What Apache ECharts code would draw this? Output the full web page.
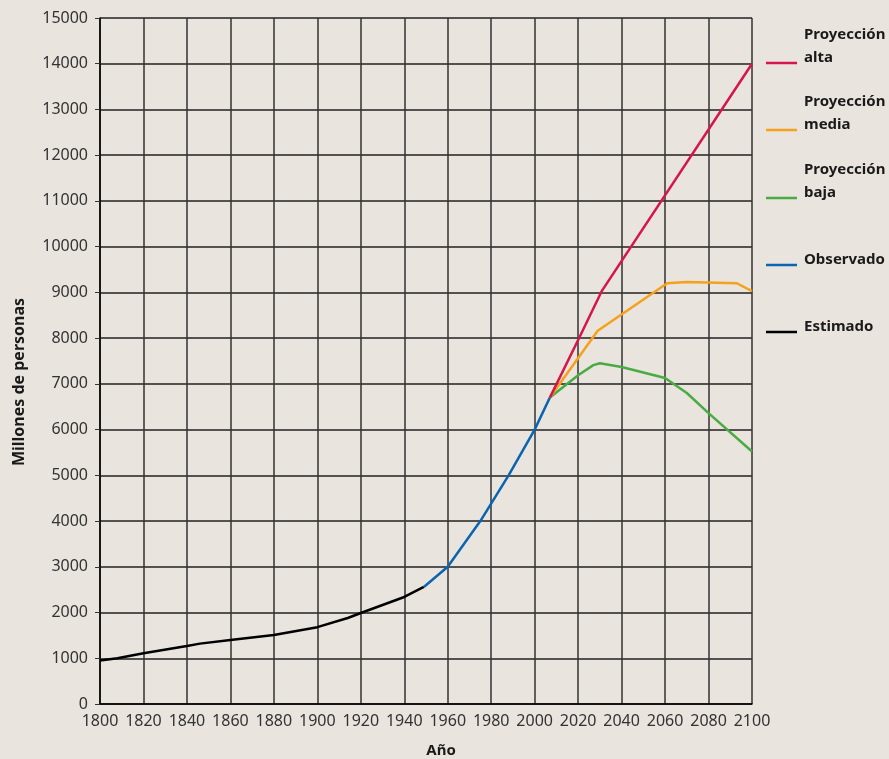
<!DOCTYPE html>
<html>
<head>
<meta charset="utf-8">
<script src="https://cdn.jsdelivr.net/npm/echarts@6/dist/echarts.min.js"></script>
<style>
  html, body { margin: 0; padding: 0; background: #e9e4de; }
  #main { width: 889px; height: 759px; }
</style>
</head>
<body>
<div id="main"></div>
<script>
// datos (millones de personas)
var estYears = [1800, 1808, 1820, 1840, 1846, 1860, 1880, 1900, 1914, 1920, 1940, 1949];
var estValues = [950, 1000, 1110, 1270, 1320, 1400, 1510, 1680, 1880, 1990, 2340, 2560];

var obsYears = [1949, 1960, 1975, 1988, 2000, 2007];
var obsValues = [2560, 3000, 4000, 5000, 6000, 6700];

var altaYears = [2007, 2020, 2031, 2100];
var altaValues = [6700, 7960, 9040, 14000];

var mediaYears = [2007, 2029, 2061, 2070, 2093, 2100];
var mediaValues = [6700, 8160, 9200, 9230, 9200, 9030];

var bajaYears = [2007, 2020, 2027, 2030, 2040, 2060, 2070, 2080, 2100];
var bajaValues = [6700, 7190, 7410, 7450, 7370, 7130, 6800, 6360, 5520];

var yTicks = [0, 1000, 2000, 3000, 4000, 5000, 6000, 7000, 8000, 9000, 10000, 11000, 12000, 13000, 14000, 15000];

var legendItems = [
    { lines: ['Proyección', 'alta'], color: '#d4164b' },
    { lines: ['Proyección', 'media'], color: '#f5a11c' },
    { lines: ['Proyección', 'baja'], color: '#4aab43' },
    { lines: ['Observado'], color: '#0a64b0' },
    { lines: ['Estimado'], color: '#000000' }
];

function pairs(xs, ys) {
    return xs.map(function (x, i) { return [x, ys[i]]; });
}

function lineSeries(name, xs, ys, color) {
    return {
        name: name,
        type: 'line',
        data: pairs(xs, ys),
        symbol: 'none',
        smooth: false,
        lineStyle: { color: color, width: 2.5 },
        itemStyle: { color: color }
    };
}

// leyenda dibujada a mano: el icono va alineado con la última línea del texto
var legendIconY = [63, 130, 198, 265, 332];
var graphics = [];
legendItems.forEach(function (it, i) {
    var y = legendIconY[i];
    graphics.push({
        type: 'line',
        shape: { x1: 766, y1: y, x2: 797, y2: y },
        style: { stroke: it.color, lineWidth: 2.5 }
    });
    graphics.push({
        type: 'text',
        x: 804,
        y: y - 5 - 11.5 * (it.lines.length - 1),
        style: {
            text: it.lines.join('\n'),
            font: 'bold 15px "Noto Sans"',
            lineHeight: 23,
            fill: '#1a1a1a',
            verticalAlign: 'middle'
        }
    });
});
graphics.push({
    type: 'text',
    x: 19,
    y: 382,
    rotation: Math.PI / 2,
    style: {
        text: 'Millones de personas',
        font: 'bold 16px "Noto Sans"',
        fill: '#1a1a1a',
        align: 'center',
        verticalAlign: 'middle'
    }
});

function plain(v) { return String(v); }

var chart = echarts.init(document.getElementById('main'));
chart.setOption({
    backgroundColor: '#e9e4de',
    animation: false,
    grid: { left: 100, right: 137, top: 18, bottom: 55, containLabel: false, outerBoundsMode: 'none' },
    xAxis: {
        type: 'value',
        min: 1800,
        max: 2100,
        interval: 20,
        name: 'Año',
        nameLocation: 'middle',
        nameGap: 39,
        nameTextStyle: { fontFamily: 'Noto Sans', fontWeight: 'bold', fontSize: 15, color: '#1a1a1a', padding: [0, 0, 0, 30] },
        axisLine: { lineStyle: { color: '#000', width: 1.5 } },
        axisTick: { show: false },
        axisLabel: { fontFamily: 'Noto Sans', fontSize: 16, color: '#333', margin: 9, formatter: plain },
        splitLine: { show: true, lineStyle: { color: '#333', width: 1.5 } }
    },
    yAxis: {
        type: 'value',
        min: yTicks[0],
        max: yTicks[yTicks.length - 1],
        interval: 1000,
        axisLine: { show: true, lineStyle: { color: '#000', width: 1.5 } },
        axisTick: { show: true, length: 5, lineStyle: { color: '#333' } },
        axisLabel: { fontFamily: 'Noto Sans', fontSize: 16, color: '#333', margin: 12, formatter: plain },
        splitLine: { show: true, lineStyle: { color: '#222', width: 1.5 } }
    },
    series: [
        lineSeries('Estimado', estYears, estValues, '#000000'),
        lineSeries('Observado', obsYears, obsValues, '#0a64b0'),
        lineSeries('Proyección baja', bajaYears, bajaValues, '#4aab43'),
        lineSeries('Proyección media', mediaYears, mediaValues, '#f5a11c'),
        lineSeries('Proyección alta', altaYears, altaValues, '#d4164b')
    ],
    graphic: graphics
});
</script>
</body>
</html>
